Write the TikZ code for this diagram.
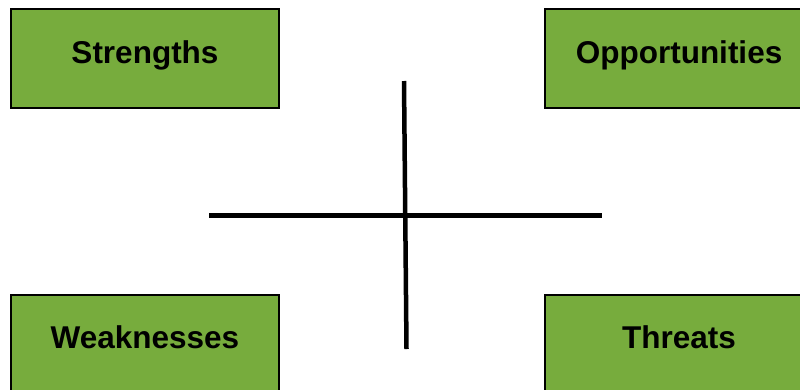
\documentclass[tikz,border=0pt]{standalone}
\usepackage{fontspec}
\setmainfont{Liberation Sans}
\definecolor{swotgreen}{RGB}{119,172,61}
\tikzset{
  quadbox/.style={draw=black, line width=2pt, fill=swotgreen,
    minimum width=268pt, minimum height=99pt, inner sep=0pt, outer sep=0pt},
  quadlabel/.style={font=\fontsize{31.5}{36}\selectfont\bfseries, inner sep=0pt, anchor=base},
  axis/.style={line width=4.8pt, line cap=butt}
}
\begin{document}
\begin{tikzpicture}[x=1pt, y=-1pt]
  \useasboundingbox (0,0) rectangle (800,389);

  % four quadrant boxes
  \node[quadbox] (sbox) at (145,58.5) {};
  \node[quadbox] (obox) at (679,58.5) {};
  \node[quadbox] (wbox) at (145,344.5) {};
  \node[quadbox] (tbox) at (679,344.5) {};

  % labels on their baselines
  \node[quadlabel] (stext) at (145,63.3) {Strengths};
  \node[quadlabel] (otext) at (679,63.3) {Opportunities};
  \node[quadlabel] (wtext) at (145,348.5) {Weaknesses};
  \node[quadlabel] (ttext) at (679,348.5) {Threats};

  % the central cross
  \coordinate (hl) at (209,215.5);
  \coordinate (hr) at (602,215.5);
  \coordinate (vt) at (404,81);
  \coordinate (vb) at (406.5,349);
  \draw[axis] (hl) -- (hr);
  \draw[axis, line width=4.5pt] (vt) -- (vb);
\end{tikzpicture}
\end{document}
